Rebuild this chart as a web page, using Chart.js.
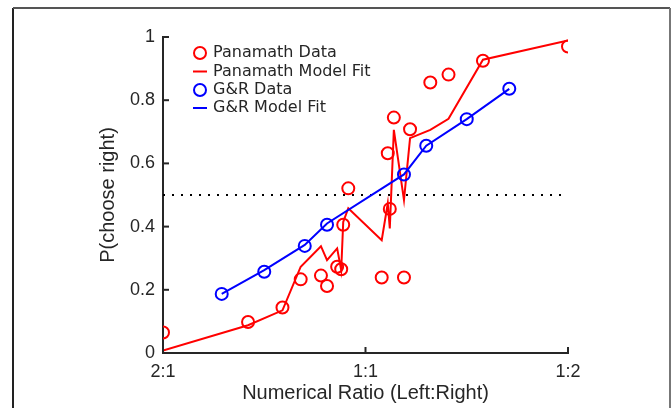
<!DOCTYPE html>
<html><head><meta charset="utf-8">
<script src="https://cdn.jsdelivr.net/npm/chart.js@4.4.1/dist/chart.umd.min.js"></script>
<style>html,body{margin:0;padding:0;background:#fff;}#wrap{position:relative;width:672px;height:408px;}</style>
</head><body><div id="wrap"><canvas id="c" width="672" height="408"></canvas></div>
<script>
// x = log ratio position (2:1 -> -1, 1:1 -> 0, 1:2 -> 1)
const tickValues = [-1, 0, 1];
const tickLabels = ['2:1', '1:1', '1:2'];
const yTicks = [0, 0.2, 0.4, 0.6, 0.8, 1];

const panamathX   = [-1.0, -0.58, -0.41, -0.32, -0.22, -0.19, -0.14, -0.12, -0.11, -0.085, 0.08, 0.11, 0.12, 0.14, 0.19, 0.22, 0.32, 0.41, 0.58, 1.0];
const panamathY   = [0.065, 0.098, 0.144, 0.233, 0.245, 0.212, 0.273, 0.265, 0.406, 0.521, 0.239, 0.632, 0.456, 0.745, 0.239, 0.708, 0.856, 0.881, 0.925, 0.970];
const panamathFit = [0.008, 0.088, 0.135, 0.273, 0.338, 0.294, 0.331, 0.262, 0.415, 0.458, 0.357, 0.474, 0.394, 0.706, 0.484, 0.680, 0.706, 0.741, 0.928, 0.989];

const grX   = [-0.71, -0.50, -0.30, -0.19, 0.19, 0.30, 0.50, 0.71];
const grY   = [0.187, 0.257, 0.339, 0.406, 0.565, 0.656, 0.740, 0.836];
const grFit = [0.187, 0.262, 0.342, 0.410, 0.565, 0.656, 0.740, 0.836];

const chanceX = [-1, 1];
const chanceY = [0.5, 0.5];

const legendItems = [
  {label: 'Panamath Data', color: '#ff0000', type: 'circle'},
  {label: 'Panamath Model Fit', color: '#ff0000', type: 'line'},
  {label: 'G&R Data', color: '#0000ff', type: 'circle'},
  {label: 'G&R Model Fit', color: '#0000ff', type: 'line'}
];
const xTitle = 'Numerical Ratio (Left:Right)';
const yTitle = 'P(choose right)';

const zip = (xs, ys) => xs.map((x, i) => ({x: x, y: ys[i]}));
const AX = '#262626';

const decor = {
  id: 'decor',
  beforeDraw(chart) {
    const ctx = chart.ctx;
    ctx.save();
    ctx.fillStyle = '#fff';
    ctx.fillRect(0, 0, chart.width, chart.height);
    ctx.lineWidth = 2;
    ctx.strokeStyle = '#222';
    ctx.beginPath(); ctx.moveTo(13, 408); ctx.lineTo(13, 8); ctx.stroke();
    ctx.strokeStyle = '#555';
    ctx.beginPath(); ctx.moveTo(13, 8); ctx.lineTo(670, 8); ctx.stroke();
    ctx.strokeStyle = '#777';
    ctx.beginPath(); ctx.moveTo(670, 8); ctx.lineTo(670, 408); ctx.stroke();
    ctx.restore();
  },
  afterDraw(chart) {
    const ctx = chart.ctx;
    const xs = chart.scales.x, ys = chart.scales.y;
    const a = chart.chartArea;
    ctx.save();
    ctx.strokeStyle = AX;
    ctx.lineWidth = 2;
    yTicks.forEach(v => {
      const py = ys.getPixelForValue(v);
      ctx.beginPath(); ctx.moveTo(a.left, py); ctx.lineTo(a.left + 6, py); ctx.stroke();
    });
    tickValues.forEach(v => {
      const px = xs.getPixelForValue(v);
      ctx.beginPath(); ctx.moveTo(px, a.bottom); ctx.lineTo(px, a.bottom - 6); ctx.stroke();
    });
    // titles
    ctx.fillStyle = AX;
    ctx.font = '20px "Liberation Sans", Arial, sans-serif';
    ctx.textAlign = 'center';
    ctx.textBaseline = 'middle';
    ctx.fillText(xTitle, (a.left + a.right) / 2, 393);
    ctx.save();
    ctx.translate(108, (a.top + a.bottom) / 2);
    ctx.rotate(-Math.PI / 2);
    ctx.fillText(yTitle, 0, 0);
    ctx.restore();
    // legend
    ctx.font = '16px "DejaVu Sans", Verdana, sans-serif';
    ctx.textAlign = 'left';
    ctx.textBaseline = 'middle';
    const rows = [53, 71.5, 90, 108];
    legendItems.forEach((it, i) => {
      const y = rows[i];
      ctx.strokeStyle = it.color;
      ctx.lineWidth = 2;
      if (it.type === 'circle') {
        ctx.beginPath(); ctx.arc(200, y, 6, 0, Math.PI * 2); ctx.stroke();
      } else {
        ctx.beginPath(); ctx.moveTo(193, y); ctx.lineTo(207, y); ctx.stroke();
      }
      ctx.fillStyle = AX;
      ctx.fillText(it.label, 213, y);
    });
    ctx.restore();
  }
};

new Chart(document.getElementById('c'), {
  type: 'scatter',
  data: {
    datasets: [
      {label: 'chance', data: zip(chanceX, chanceY), showLine: true, borderColor: '#000', borderWidth: 2, borderDash: [2, 7], pointRadius: 0, order: 5},
      {label: 'Panamath Data', data: zip(panamathX, panamathY), showLine: false, pointStyle: 'circle', pointRadius: 6, pointBorderWidth: 2, borderColor: '#ff0000', backgroundColor: 'rgba(0,0,0,0)', order: 4},
      {label: 'Panamath Model Fit', data: zip(panamathX, panamathFit), showLine: true, borderColor: '#ff0000', borderWidth: 2, pointRadius: 0, tension: 0, order: 3},
      {label: 'G&R Data', data: zip(grX, grY), showLine: false, pointStyle: 'circle', pointRadius: 6, pointBorderWidth: 2, borderColor: '#0000ff', backgroundColor: 'rgba(0,0,0,0)', order: 2},
      {label: 'G&R Model Fit', data: zip(grX, grFit), showLine: true, borderColor: '#0000ff', borderWidth: 2, pointRadius: 0, tension: 0, order: 1}
    ]
  },
  options: {
    responsive: false,
    animation: false,
    devicePixelRatio: 1,
    layout: {padding: {left: 0, top: 37, right: 104, bottom: 0}},
    plugins: {legend: {display: false}, tooltip: {enabled: false}},
    elements: {point: {hoverRadius: 6}},
    scales: {
      x: {
        type: 'linear', min: -1, max: 1,
        afterBuildTicks: s => { s.ticks = tickValues.map(v => ({value: v})); },
        afterFit: s => { s.height = 55; },
        ticks: {
          callback: v => tickLabels[tickValues.indexOf(v)],
          font: {family: '"Liberation Sans", Arial, sans-serif', size: 18},
          color: AX, padding: 8, maxRotation: 0
        },
        grid: {display: false, drawTicks: false},
        border: {display: true, color: AX, width: 2}
      },
      y: {
        type: 'linear', min: 0, max: 1,
        afterBuildTicks: s => { s.ticks = yTicks.map(v => ({value: v})); },
        afterFit: s => { s.width = 163; },
        ticks: {
          callback: v => (v === 0 || v === 1) ? String(v) : v.toFixed(1),
          font: {family: '"Liberation Sans", Arial, sans-serif', size: 18},
          color: AX, padding: 8
        },
        grid: {display: false, drawTicks: false},
        border: {display: true, color: AX, width: 2}
      }
    }
  },
  plugins: [decor]
});
</script>
</body></html>
